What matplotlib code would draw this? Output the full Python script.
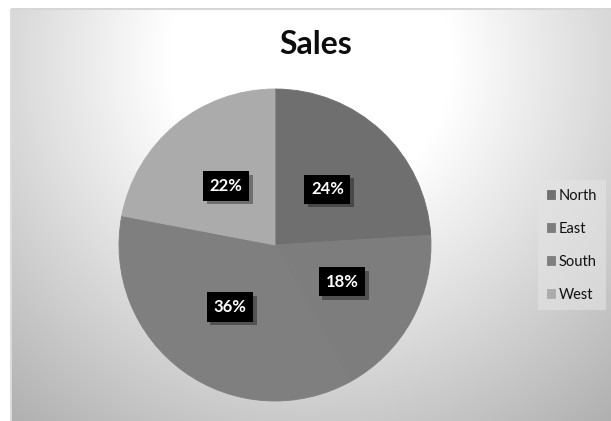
import numpy as np
import matplotlib
matplotlib.use('Agg')
import matplotlib.pyplot as plt
import matplotlib.patheffects as pe

# Regional sales shares
regions = ['North', 'East', 'South', 'West']
shares = [24, 18, 36, 22]
slice_colors = ['#6f6f6f', '#7d7d7d', '#7f7f7f', '#ababab']

W, H = 611, 421
fig = plt.figure(figsize=(W / 100, H / 100), dpi=100)

# Chart-area background: soft radial fade from the top centre
bg = fig.add_axes([0, 0, 1, 1])
yy, xx = np.mgrid[0:H, 0:W]
dist = np.hypot(xx - 310, yy - 60)
shade = np.clip(1 - 0.00095 * (dist - 142), 0.66, 1.0)
shade[(xx < 11) | (yy < 9)] = 1.0
shade[8:10, 11:] = 0.84
shade[9:, 10:12] = 0.86
bg.imshow(np.dstack([shade] * 3), extent=(0, W, H, 0), interpolation='bilinear')
bg.set_xlim(0, W)
bg.set_ylim(H, 0)
bg.axis('off')

# Pie: centre (275, 245) px, radius 156 px
cx, cy, r = 275, 245, 156
ax = fig.add_axes([(cx - r) / W, (H - cy - r) / H, 2 * r / W, 2 * r / H])
wedges, _, autotexts = ax.pie(
    shares, colors=slice_colors, startangle=90, counterclock=False,
    autopct='%d%%', pctdistance=0.49, radius=1,
    textprops=dict(color='white', fontsize=12, fontweight='bold', family='Lato'))
for w in wedges:
    w.set_edgecolor(w.get_facecolor())
    w.set_linewidth(0.6)
ax.set_xlim(-1, 1)
ax.set_ylim(-1, 1)
ax.set_aspect('equal')

for t in autotexts:
    t.set_bbox(dict(boxstyle='square,pad=0.4', fc='black', ec='none'))
    t.get_bbox_patch().set_path_effects([
        pe.SimplePatchShadow(offset=(2.5, -2.5), shadow_rgbFace='black', alpha=0.35),
        pe.Normal()])

fig.text(316 / W, 1 - 44 / H, 'Sales', ha='center', va='center',
         fontsize=23, fontweight='bold', family='Lato', color='#0d0d0d')

leg = fig.legend(wedges, regions, loc='upper left',
                 bbox_to_anchor=(538 / W, 1 - 180 / H),
                 prop=dict(family='Lato', size=10.5),
                 handlelength=0.55, handleheight=0.55, handletextpad=0.25,
                 labelspacing=1.3, borderpad=0.6, borderaxespad=0,
                 frameon=True, fancybox=False)
leg.get_frame().set_facecolor('#e4e4e4')
leg.get_frame().set_edgecolor('none')
leg.get_frame().set_alpha(0.6)
for txt in leg.get_texts():
    txt.set_color('#111111')

fig.savefig('out.png', dpi=100)
